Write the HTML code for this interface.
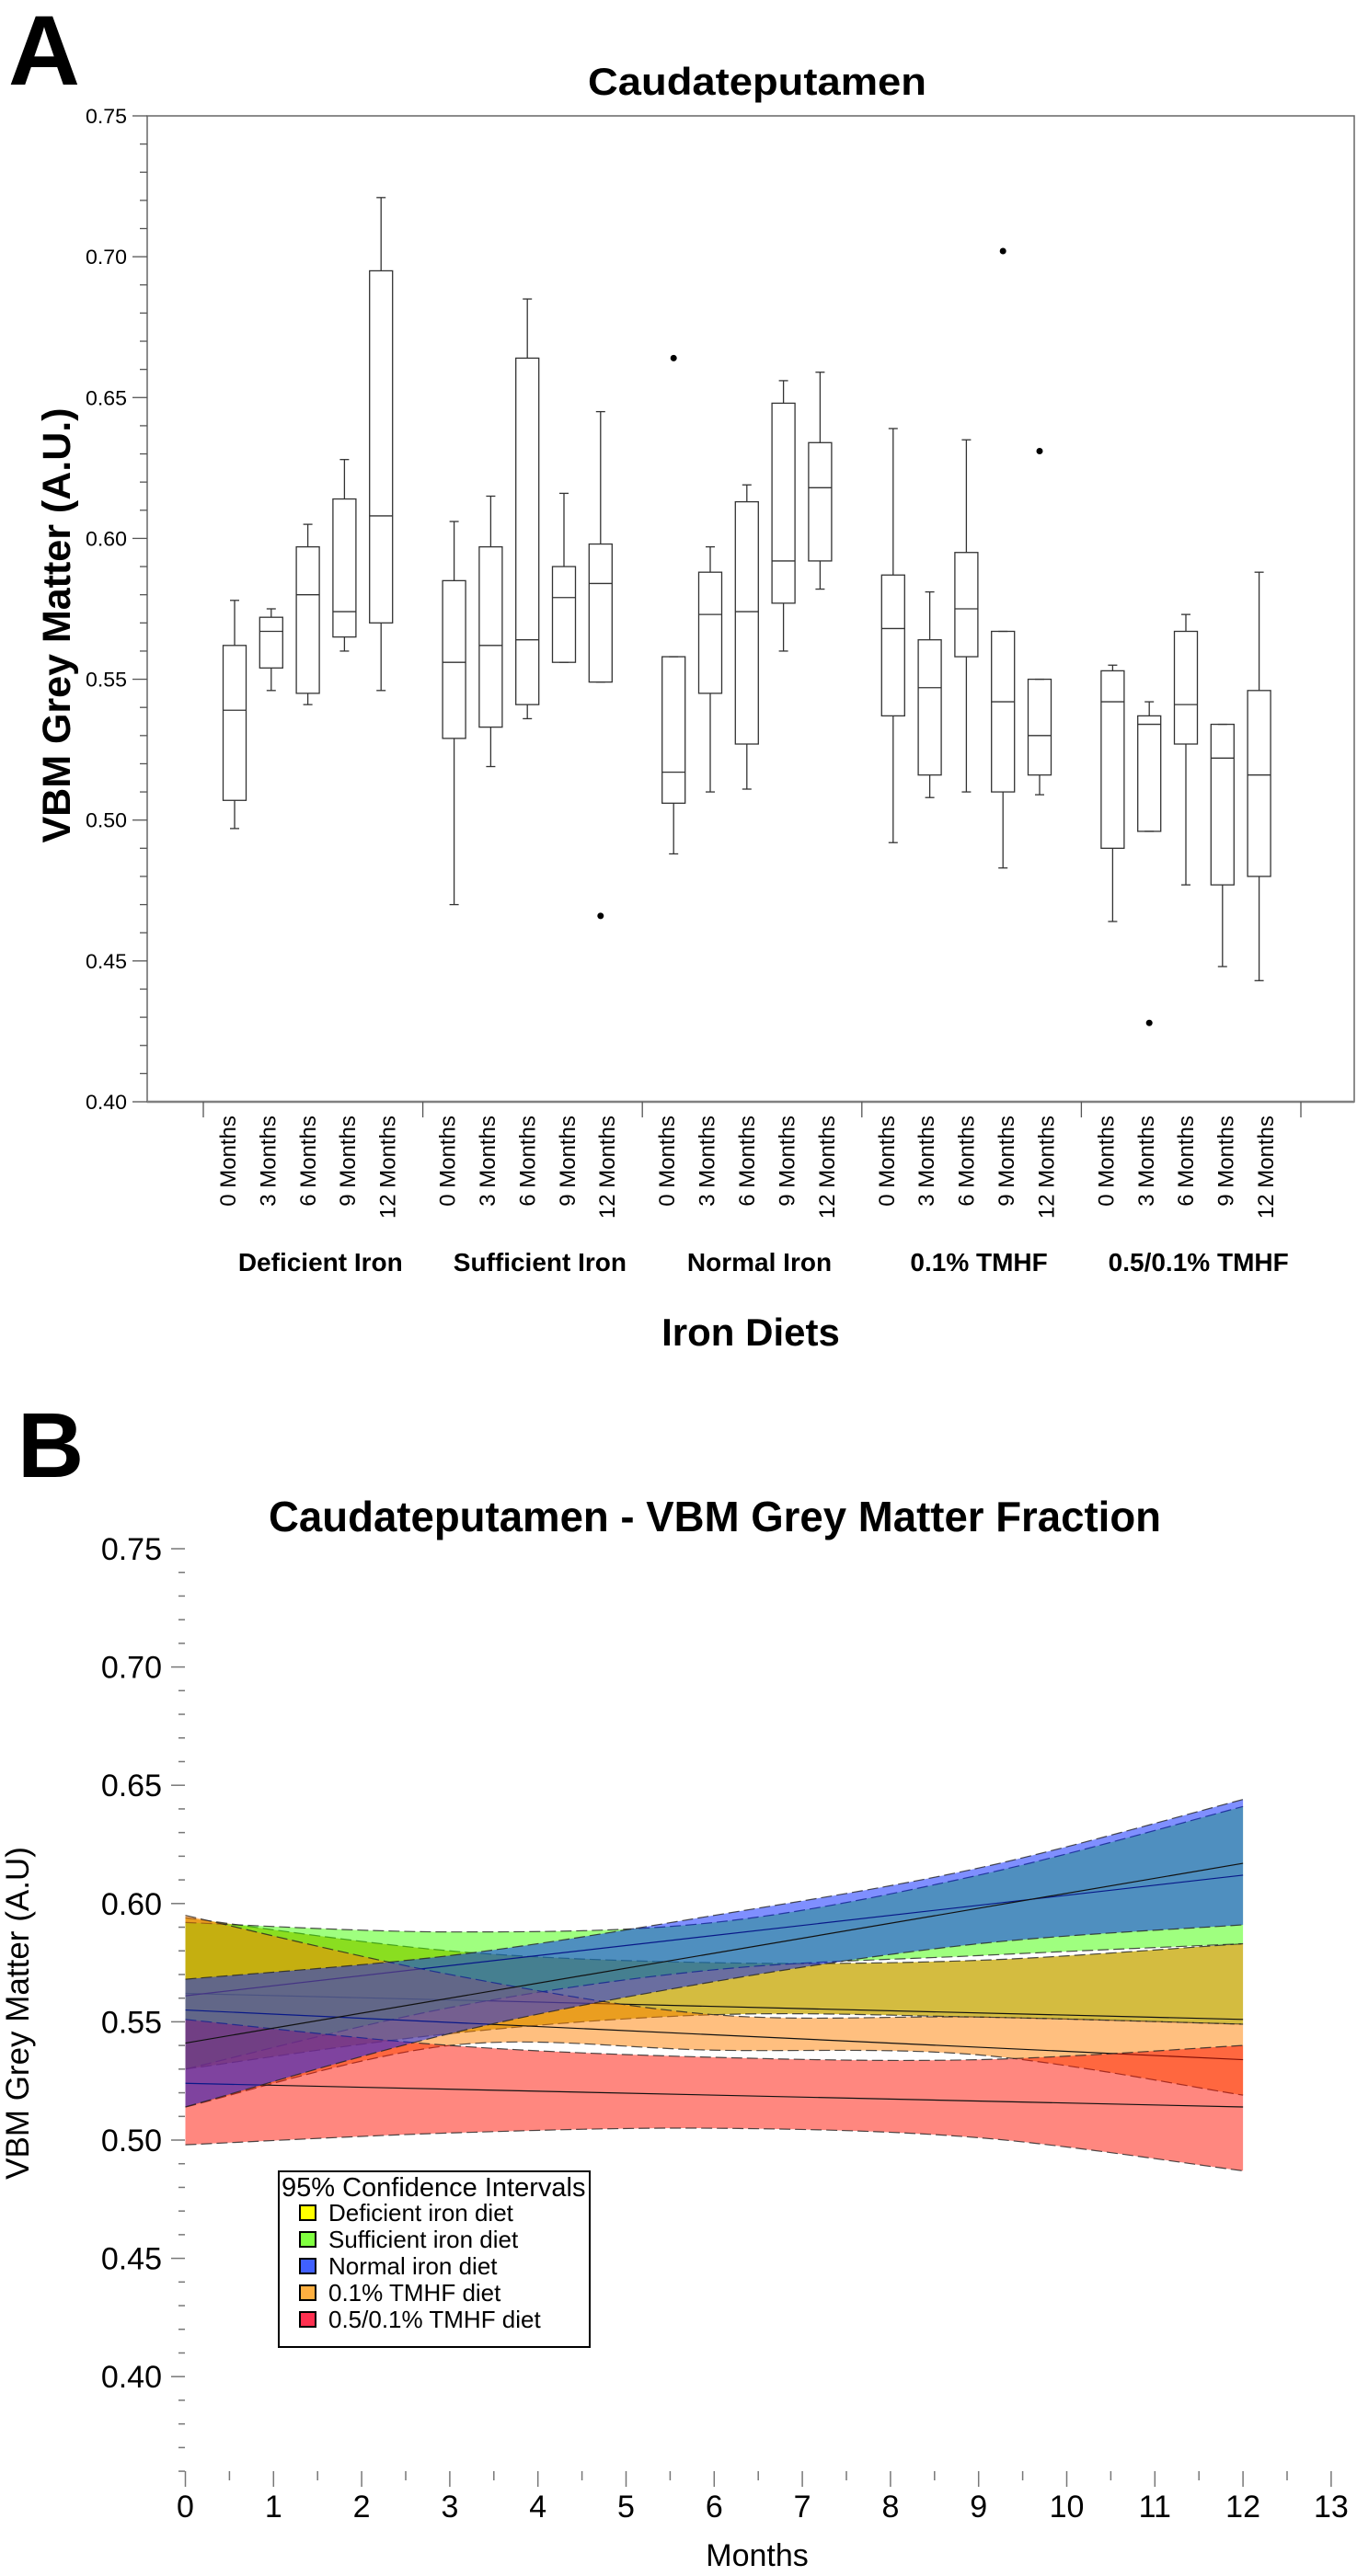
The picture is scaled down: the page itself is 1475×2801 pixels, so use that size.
<!DOCTYPE html>
<html><head><meta charset="utf-8"><style>
html,body{margin:0;padding:0;background:#fff;}
svg{display:block;font-family:"Liberation Sans",Arial,sans-serif;}
</style></head><body>
<svg id="fig" width="1475" height="2801" viewBox="0 0 1475 2801" xmlns="http://www.w3.org/2000/svg">
<g id="panelA"></g>
<g id="panelB"></g>
</svg>
<script>
// ---------- Panel A data ----------
const groupNames = ["Deficient Iron","Sufficient Iron","Normal Iron","0.1% TMHF","0.5/0.1% TMHF"];
const monthLabels = ["0 Months","3 Months","6 Months","9 Months","12 Months"];
const whiskerHigh = [0.578,0.575,0.605,0.628,0.721, 0.606,0.615,0.685,0.616,0.645, 0.558,0.597,0.619,0.656,0.659, 0.639,0.581,0.635,0.567,0.550, 0.555,0.542,0.573,0.534,0.588];
const q3Vals      = [0.562,0.572,0.597,0.614,0.695, 0.585,0.597,0.664,0.590,0.598, 0.558,0.588,0.613,0.648,0.634, 0.587,0.564,0.595,0.567,0.550, 0.553,0.537,0.567,0.534,0.546];
const medianVals  = [0.539,0.567,0.580,0.574,0.608, 0.556,0.562,0.564,0.579,0.584, 0.517,0.573,0.574,0.592,0.618, 0.568,0.547,0.575,0.542,0.530, 0.542,0.534,0.541,0.522,0.516];
const q1Vals      = [0.507,0.554,0.545,0.565,0.570, 0.529,0.533,0.541,0.556,0.549, 0.506,0.545,0.527,0.577,0.592, 0.537,0.516,0.558,0.510,0.516, 0.490,0.496,0.527,0.477,0.480];
const whiskerLow  = [0.497,0.546,0.541,0.560,0.546, 0.470,0.519,0.536,0.556,0.549, 0.488,0.510,0.511,0.560,0.582, 0.492,0.508,0.510,0.483,0.509, 0.464,0.496,0.477,0.448,0.443];
const outlierBox  = [9,10,18,19,21];
const outlierVal  = [0.466,0.664,0.702,0.631,0.428];
const yTicksA = ["0.40","0.45","0.50","0.55","0.60","0.65","0.70","0.75"];

// ---------- Panel B data ----------
const seriesNames = ["Deficient iron diet","Sufficient iron diet","Normal iron diet","0.1% TMHF diet","0.5/0.1% TMHF diet"];
const seriesColors = ["#c6a600","#40ff00","#0020ff","#ff8000","#ff1000"];
const seriesOpacity = [0.75,0.5,0.5,0.5,0.5];
const legendColors = ["#ffff00","#80ff40","#4060ff","#ffb040","#ff3050"];
const bandMonths = [0,3,6,9,12];
const upperDef = [0.594,0.580,0.575,0.576,0.583];
const lowerDef = [0.530,0.545,0.553,0.552,0.549];
const meanDef  = [0.562,0.551];
const upperSuf = [0.592,0.588,0.592,0.612,0.641];
const lowerSuf = [0.530,0.556,0.572,0.578,0.583];
const meanSuf  = [0.561,0.612];
const upperNor = [0.568,0.578,0.595,0.615,0.644];
const lowerNor = [0.514,0.545,0.567,0.583,0.591];
const meanNor  = [0.541,0.617];
const upperT1  = [0.595,0.570,0.553,0.552,0.549];
const lowerT1  = [0.514,0.540,0.538,0.536,0.519];
const meanT1   = [0.555,0.534];
const upperT5  = [0.551,0.540,0.535,0.534,0.540];
const lowerT5  = [0.498,0.503,0.505,0.501,0.487];
const meanT5   = [0.524,0.514];
const yTicksB = ["0.40","0.45","0.50","0.55","0.60","0.65","0.70","0.75"];
const xTicksB = ["0","1","2","3","4","5","6","7","8","9","10","11","12","13"];

const NS="http://www.w3.org/2000/svg";
function mk(tag,attrs,parent,txt){const e=document.createElementNS(NS,tag);for(const k in attrs)e.setAttribute(k,attrs[k]);if(txt!==undefined)e.textContent=txt;parent.appendChild(e);return e;}

// ================= PANEL A =================
const A=document.getElementById('panelA');
const aL=160,aR=1472,aT=126,aB=1198;
const yA=v=>aT+(0.75-v)/0.35*(aB-aT);
const groupW=238.6, sep0=221;
const boxX=i=>sep0+Math.floor(i/5)*groupW+34+(i%5)*39.8;

let t=mk('text',{x:9,y:92,'font-size':108,'font-weight':'bold'},A,'A');

t=mk('text',{x:823,y:103,'font-size':42,'font-weight':'bold','text-anchor':'middle',textLength:368,lengthAdjust:'spacingAndGlyphs'},A,'Caudateputamen');

let fr=mk('rect',{x:aL,y:aT,width:aR-aL,height:aB-aT,fill:'none',stroke:'#666','stroke-width':1.5},A);

mk('line',{x1:aL,y1:aB,x2:aR,y2:aB,stroke:'#808080','stroke-width':2.5},A);
for(let k=0;k<=35;k++){const v=0.40+k*0.01;const y=yA(v);const major=k%5===0;
 const l=mk('line',{x1:major?aL-16:aL-8,y1:y,x2:aL,y2:y,stroke:'#555','stroke-width':1.3},A);
 }
yTicksA.forEach((s,i)=>{const tt=mk('text',{x:138,y:yA(parseFloat(s))+8,'font-size':22,'text-anchor':'end',textLength:45,lengthAdjust:'spacingAndGlyphs'},A,s);
 });
t=mk('text',{transform:'translate(76,680) rotate(-90)','font-size':43,'font-weight':'bold','text-anchor':'middle'},A,'VBM Grey Matter (A.U.)');

for(let g=0;g<=5;g++){const x=sep0+g*groupW;const l=mk('line',{x1:x,y1:aB,x2:x,y2:aB+17,stroke:'#555','stroke-width':1.3},A);
 }
for(let i=0;i<whiskerHigh.length;i++){
 const cx=boxX(i),w=25;
 const g=mk('g',{},A);
 
 
 const st={stroke:'#333','stroke-width':1.3};
 mk('line',Object.assign({x1:cx,y1:yA(whiskerHigh[i]),x2:cx,y2:yA(q3Vals[i])},st),g);
 mk('line',Object.assign({x1:cx,y1:yA(q1Vals[i]),x2:cx,y2:yA(whiskerLow[i])},st),g);
 mk('line',Object.assign({x1:cx-5,y1:yA(whiskerHigh[i]),x2:cx+5,y2:yA(whiskerHigh[i])},st),g);
 mk('line',Object.assign({x1:cx-5,y1:yA(whiskerLow[i]),x2:cx+5,y2:yA(whiskerLow[i])},st),g);
 mk('rect',Object.assign({x:cx-w/2,y:yA(q3Vals[i]),width:w,height:yA(q1Vals[i])-yA(q3Vals[i]),fill:'none'},st),g);
 mk('line',Object.assign({x1:cx-w/2,y1:yA(medianVals[i]),x2:cx+w/2,y2:yA(medianVals[i])},st),g);
}
outlierBox.forEach((b,k)=>{const c=mk('circle',{cx:boxX(b),cy:yA(outlierVal[k]),r:3.5,fill:'#000'},A);
 });
for(let g=0;g<5;g++){
 for(let m=0;m<5;m++){const cx=sep0+g*groupW+26+m*43.4;
  const tt=mk('text',{transform:`translate(${cx+9},1213) rotate(-90)`,'font-size':24,'text-anchor':'end'},A,monthLabels[m]);
  }
 const gl=mk('text',{x:sep0+g*groupW+groupW/2+8,y:1382,'font-size':28,'font-weight':'bold','text-anchor':'middle'},A,groupNames[g]);
 
}
t=mk('text',{x:816,y:1463,'font-size':42,'font-weight':'bold','text-anchor':'middle'},A,'Iron Diets');


// ================= PANEL B =================
const B=document.getElementById('panelB');
const yB=v=>1684+(0.75-v)/0.05*128.6;
const xB=m=>201.5+m*95.8;
t=mk('text',{x:19,y:1606,'font-size':100,'font-weight':'bold'},B,'B');

t=mk('text',{x:777,y:1665,'font-size':46,'font-weight':'bold','text-anchor':'middle',textLength:970,lengthAdjust:'spacingAndGlyphs'},B,'Caudateputamen - VBM Grey Matter Fraction');

function smooth(xs,ys){let pts=xs.map((x,i)=>[xB(x),yB(ys[i])]);let d=`M${pts[0][0]},${pts[0][1]}`;
 for(let i=0;i<pts.length-1;i++){const p0=pts[Math.max(0,i-1)],p1=pts[i],p2=pts[i+1],p3=pts[Math.min(pts.length-1,i+2)];
  const c1=[p1[0]+(p2[0]-p0[0])/6,p1[1]+(p2[1]-p0[1])/6],c2=[p2[0]-(p3[0]-p1[0])/6,p2[1]-(p3[1]-p1[1])/6];
  d+=` C${c1[0]},${c1[1]} ${c2[0]},${c2[1]} ${p2[0]},${p2[1]}`;}return {d,pts};}
function revSmooth(xs,ys){return smooth(xs.slice().reverse(),ys.slice().reverse());}
const bands=[[upperDef,lowerDef,meanDef,0],[upperSuf,lowerSuf,meanSuf,1],[upperT1,lowerT1,meanT1,3],[upperT5,lowerT5,meanT5,4],[upperNor,lowerNor,meanNor,2]];
bands.forEach(([up,lo,mn,ci])=>{
 const g=mk('g',{},B);
 
 
 const u=smooth(bandMonths,up),l=revSmooth(bandMonths,lo);
 const d=u.d+' L'+l.d.slice(1)+' Z';
 mk('path',{d,fill:seriesColors[ci],'fill-opacity':seriesOpacity[ci],stroke:'none'},g);
 mk('path',{d:u.d,fill:'none',stroke:'#222','stroke-width':1.2,'stroke-dasharray':'12,5','stroke-opacity':0.8},g);
 mk('path',{d:smooth(bandMonths,lo).d,fill:'none',stroke:'#222','stroke-width':1.2,'stroke-dasharray':'12,5','stroke-opacity':0.8},g);
 const ml=mk('line',{x1:xB(0),y1:yB(mn[0]),x2:xB(12),y2:yB(mn[1]),stroke:'#111','stroke-width':1.2},g);
 
});
for(let k=0;k<=39;k++){const v=0.36+k*0.01;const y=yB(v);const major=Math.round(v*100)%5===0;
 const l=mk('line',{x1:major?186:194,y1:y,x2:201,y2:y,stroke:'#777','stroke-width':1.5},B);
 }
yTicksB.forEach(s=>{const tt=mk('text',{x:176,y:yB(parseFloat(s))+12,'font-size':34,'text-anchor':'end'},B,s);
 });
for(let k=0;k<=26;k++){const m=k/2;const x=xB(m);const major=k%2===0;
 const l=mk('line',{x1:x,y1:2687,x2:x,y2:major?2704:2697,stroke:'#777','stroke-width':1.5},B);
 }
xTicksB.forEach(s=>{const tt=mk('text',{x:xB(parseFloat(s)),y:2737,'font-size':34,'text-anchor':'middle'},B,s);
 });
t=mk('text',{x:823,y:2790,'font-size':34,'text-anchor':'middle'},B,'Months');

t=mk('text',{transform:'translate(31,2189) rotate(-90)','font-size':35,'text-anchor':'middle'},B,'VBM Grey Matter (A.U)');

const lg=mk('g',{},B);


mk('rect',{x:303,y:2361,width:338,height:191,fill:'#fff',stroke:'#000','stroke-width':2},lg);
t=mk('text',{x:306,y:2388,'font-size':29},lg,'95% Confidence Intervals');

seriesNames.forEach((n,i)=>{const y=2406+i*29;
 const e=mk('g',{},lg);
 
 
 mk('rect',{x:326,y:y-8,width:17,height:16,fill:legendColors[i],stroke:'#000','stroke-width':2},e);
 mk('text',{x:357,y:y+9,'font-size':26},e,n);});
</script>
</body></html>
